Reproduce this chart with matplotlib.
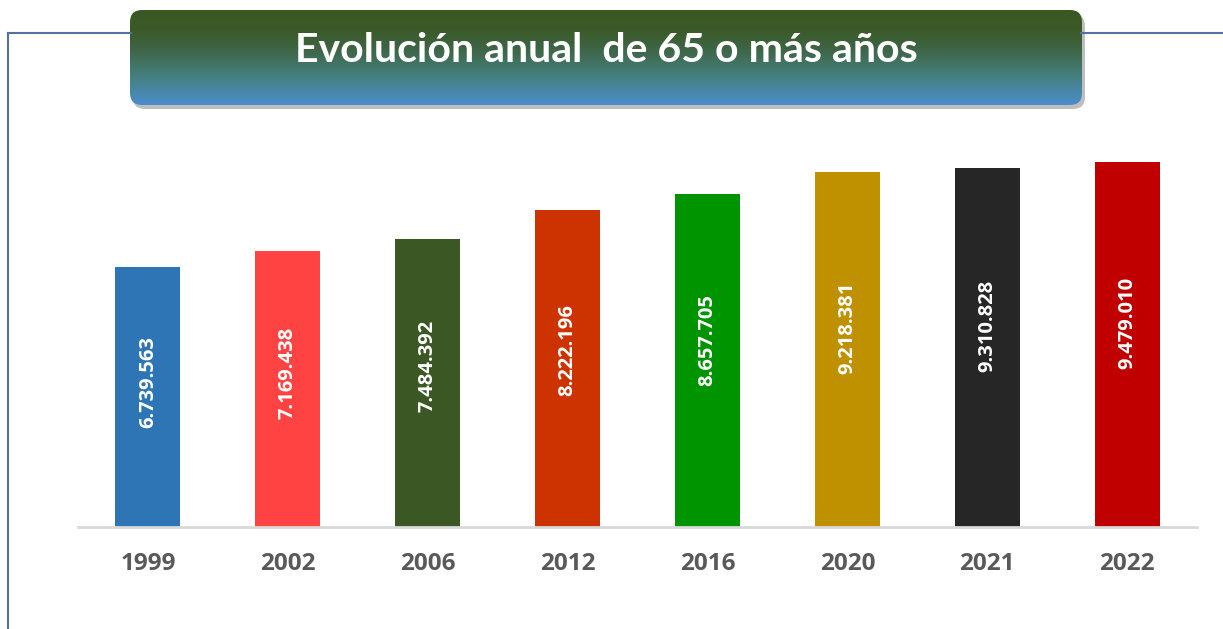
import numpy as np
import matplotlib
matplotlib.use("Agg")
import matplotlib.pyplot as plt
from matplotlib.patches import FancyBboxPatch
from matplotlib.lines import Line2D
from matplotlib.colors import LinearSegmentedColormap

# Data
years = ["1999", "2002", "2006", "2012", "2016", "2020", "2021", "2022"]
population = [6739563, 7169438, 7484392, 8222196, 8657705, 9218381, 9310828, 9479010]
bar_colors = ["#2e75b6", "#ff4343", "#3b5723", "#cc3300",
              "#009400", "#bf9000", "#262626", "#c00000"]
title = "Evolución anual  de 65 o más años"

W, H = 1223, 629
fig = plt.figure(figsize=(W / 100, H / 100), dpi=100)
fig.patch.set_facecolor("white")

# Frame lines (left edge and top edge, interrupted by the title box)
frame_col = "#52729f"
ytop = 1 - 33 / H
for xs, ys in [([8 / W, 8 / W], [0, ytop]),
               ([8 / W, 131 / W], [ytop, ytop]),
               ([1081 / W, 1], [ytop, ytop])]:
    fig.add_artist(Line2D(xs, ys, transform=fig.transFigure, color=frame_col, lw=1.5))

# Bar chart
ax = fig.add_axes([78 / W, 102 / H, 1119 / W, 387 / H])
x = np.arange(len(years))
ax.bar(x, population, width=0.465, color=bar_colors, zorder=2)
ax.set_xlim(-0.5, len(years) - 0.5)
ax.set_ylim(0, 10.05e6)

for xi, v in zip(x, population):
    label = f"{v:,}".replace(",", ".")
    ax.text(xi, v * 0.56, label, rotation=90, ha="center", va="center",
            color="white", fontsize=14.5, fontweight="bold", family="Open Sans", zorder=3)

ax.set_xticks(x)
ax.set_xticklabels(years, fontsize=17.5, fontweight="bold", color="#595959", family="Open Sans")
ax.tick_params(axis="x", length=0, pad=18)
ax.set_yticks([])
for side in ["top", "right", "left"]:
    ax.spines[side].set_visible(False)
ax.spines["bottom"].set_color("#d9d9d9")
ax.spines["bottom"].set_linewidth(2)
ax.patch.set_alpha(0)

# Title box with gradient
bw, bh = 952, 95
tax = fig.add_axes([130 / W, 1 - 105 / H, bw / W, bh / H])
tax.set_xlim(0, bw)
tax.set_ylim(0, bh)
tax.axis("off")

shadow = FancyBboxPatch((3, -4), bw, bh, boxstyle="round,pad=0,rounding_size=12",
                        facecolor="#6f6f6f", edgecolor="none", alpha=0.45,
                        clip_on=False, zorder=1)
tax.add_patch(shadow)

box = FancyBboxPatch((0, 0), bw, bh, boxstyle="round,pad=0,rounding_size=12",
                     facecolor="none", edgecolor="none", zorder=2)
tax.add_patch(box)

cmap = LinearSegmentedColormap.from_list(
    "tgrad", [(0, "#4a8dcd"), (0.3, "#45807f"), (0.6, "#3e6444"), (0.8, "#3b5a27"), (1, "#3a5824")])
grad = np.linspace(0, 1, 256).reshape(-1, 1)
img = tax.imshow(grad, extent=[0, bw, 0, bh], origin="lower", aspect="auto",
                 cmap=cmap, zorder=2)
img.set_clip_path(box)

tax.text(bw / 2, 43, title, ha="center", va="baseline", color="white",
         fontsize=29.5, fontweight="bold", family="Lato", zorder=3)

fig.savefig("out.png", dpi=100)
